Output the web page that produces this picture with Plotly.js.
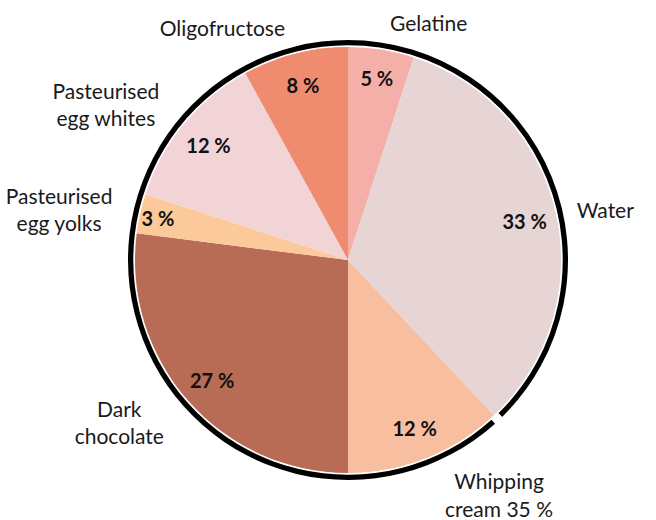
<!DOCTYPE html>
<html>
<head>
<meta charset="utf-8">
<script src="https://cdn.plot.ly/plotly-3.0.1.min.js"></script>
<style>html,body{margin:0;padding:0;background:#fff;}#chart{width:656px;height:520px;}</style>
</head>
<body>
<div id="chart"></div>
<script>
// Data
var categories = ['Gelatine', 'Water', 'Whipping cream 35 %', 'Dark chocolate', 'Pasteurised egg yolks', 'Pasteurised egg whites', 'Oligofructose'];
var labelTexts = ['Gelatine', 'Water', 'Whipping<br>cream 35 %', 'Dark<br>chocolate', 'Pasteurised<br>egg yolks', 'Pasteurised<br>egg whites', 'Oligofructose'];
var values = [5, 33, 12, 27, 3, 12, 8];
var colors = ['#f4b0a8', '#e6d5d4', '#f7bea0', '#b86b55', '#fbc99a', '#f2d3d6', '#ef8b6f'];

var pctTexts = values.map(function (v) { return v + ' %'; });
var transparent = values.map(function () { return 'rgba(0,0,0,0)'; });

// outer ring with a small gap at the Water / Whipping cream boundary
var gapAt = values[0] + values[1];
var gap = 0.7;
var ringValues = [gapAt - gap / 2, gap, 100 - gapAt - gap / 2];

// radii (px): labels 228, ring 220, pie 213
function dom(f) { var m = (1 - f) / 2; return [m, 1 - m]; }
var ringDom = dom(220 / 228);
var pieDom = dom(213 / 228);

var common = {
  type: 'pie', sort: false, direction: 'clockwise', rotation: 0,
  hoverinfo: 'none', showlegend: false
};

var traces = [
  Object.assign({}, common, {
    values: values, labels: categories,
    marker: {colors: colors, line: {width: 0}},
    textinfo: 'none',
    domain: {x: pieDom, y: pieDom}
  }),
  Object.assign({}, common, {
    values: values, labels: categories,
    marker: {colors: transparent, line: {width: 0}},
    hole: 0.7,
    text: pctTexts, textinfo: 'text', textposition: 'inside',
    insidetextorientation: 'horizontal',
    textfont: {family: 'Lato', size: 20, weight: 'bold', color: '#111'},
    domain: {x: pieDom, y: pieDom}
  }),
  Object.assign({}, common, {
    values: values, labels: categories,
    marker: {colors: transparent, line: {width: 0}},
    text: labelTexts, textinfo: 'text', textposition: 'outside',
    textfont: {family: 'Lato', size: 21, color: '#1a1a1a'},
    domain: {x: [0, 1], y: [0, 1]}
  }),
  Object.assign({}, common, {
    values: ringValues, labels: ['a', 'b', 'c'],
    marker: {colors: ['#000000', '#ffffff', '#000000'], line: {width: 0}},
    hole: 0.976,
    textinfo: 'none',
    domain: {x: ringDom, y: ringDom}
  })
];

var layout = {
  width: 656, height: 520,
  margin: {l: 120, r: 80, t: 32, b: 32},
  paper_bgcolor: '#ffffff',
  plot_bgcolor: '#ffffff',
  font: {family: 'Lato', size: 21, color: '#1a1a1a'},
  uniformtext: {mode: 'show', minsize: 20}
};

Plotly.newPlot('chart', traces, layout, {displayModeBar: false, staticPlot: true});
</script>
</body>
</html>
